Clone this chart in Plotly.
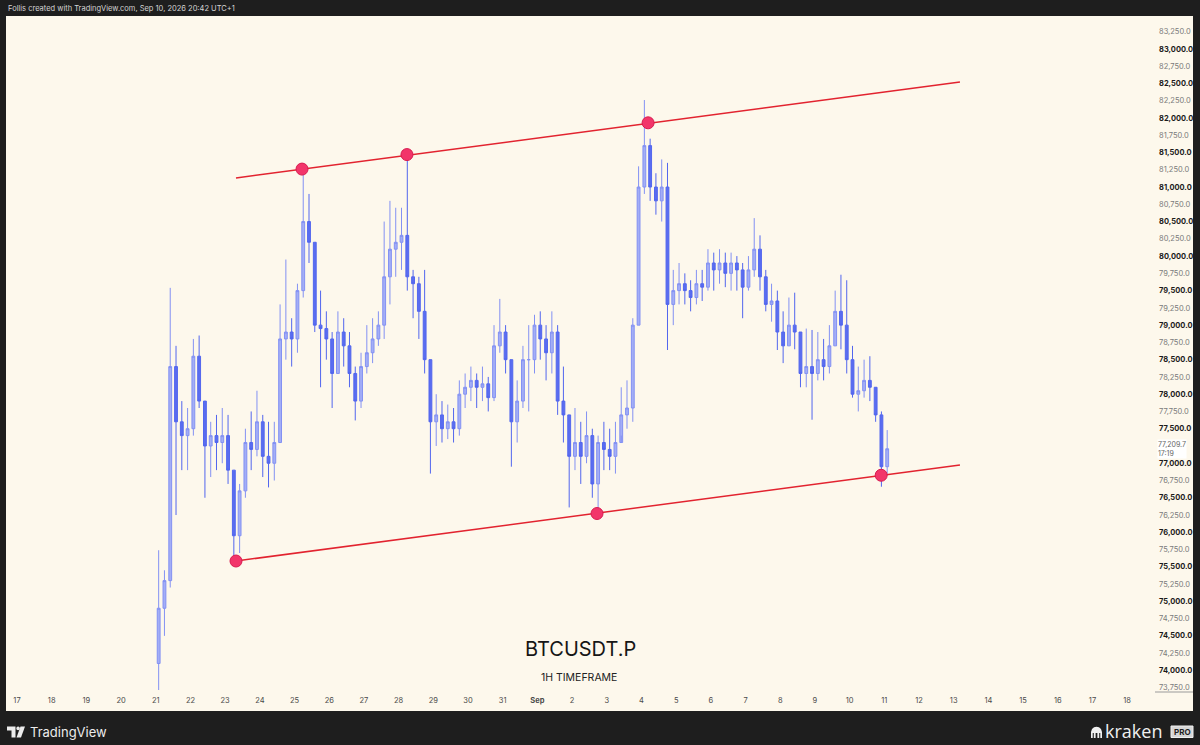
import plotly.graph_objects as go
import pandas as pd

# ---------------- data (4-hour candles) ----------------
first_open = 74100
closes = [74900, 75300, 78400, 77600, 77400, 77500, 78550, 77900, 77250, 77400,
          77300, 77400, 76900, 75950, 76600, 77300, 77200, 77600, 77100, 77000,
          77300, 78800, 78900, 78800, 79500, 80500, 80200, 79000, 78950, 78800,
          78300, 78900, 78700, 78300, 77900, 78400, 78600, 78800, 79000, 79700,
          80100, 80200, 80300, 79700, 79600, 79200, 78500, 77600, 77700, 77500,
          77600, 77500, 78000, 78100, 78200, 78100, 78150, 77950, 78700, 78900,
          78500, 77600, 77900, 78500, 78500, 79000, 78800, 78600, 78900, 77900,
          77700, 77100, 77300, 77100, 77400, 76700, 77300, 77200, 77100, 77300,
          77700, 77800, 79000, 81000, 81600, 81000, 80800, 81000, 79300, 79500,
          79600, 79500, 79400, 79600, 79550, 79900, 79800, 79900, 79750, 79900,
          79800, 79550, 79800, 80100, 79700, 79300, 79350, 78900, 78700, 79000,
          78900, 78300, 78400, 78300, 78500, 78400, 78700, 79200, 79000, 78500,
          78000, 78050, 78200, 78100, 77700, 76950, 77210]
highs = [75740, 75450, 79540, 78700, 77900, 77800, 78800, 78850, 77900, 77600,
         77700, 77800, 77700, 76900, 76700, 77500, 77750, 78050, 77700, 77600,
         77600, 79300, 79950, 79100, 79600, 81260, 80900, 80200, 79500, 79200,
         78900, 79200, 79100, 78900, 78400, 78600, 79000, 79100, 79200, 80500,
         80800, 80700, 80700, 81480, 79800, 79700, 79800, 78500, 78000, 77900,
         77850, 77800, 78200, 78300, 78400, 78300, 78400, 78250, 79000, 79380,
         79000, 78500, 78200, 78700, 79000, 79150, 79200, 79000, 79200, 79000,
         78400, 77700, 77800, 77600, 77750, 77500, 77400, 77600, 77500, 77600,
         78100, 78200, 79100, 81300, 82260, 81700, 81200, 81400, 81350, 79800,
         79900, 79750, 79650, 79800, 79800, 80100, 80050, 80100, 80050, 80050,
         80000, 79900, 80000, 80550, 80300, 79800, 79600, 79500, 79200, 79400,
         79470, 78900, 78950, 78930, 78900, 78800, 79000, 79500, 79730, 79650,
         78700, 78400, 78500, 78550, 78100, 77750, 77480]
lows = [73650, 74500, 75200, 76250, 76900, 76900, 77400, 77800, 76500, 76800,
        76900, 77000, 76700, 75580, 75700, 76500, 76900, 77100, 76800, 76650,
        76750, 77300, 78500, 78400, 78600, 79400, 79900, 78900, 78100, 78500,
        77800, 78300, 78400, 78100, 77620, 77800, 78300, 78450, 78700, 78800,
        79300, 79700, 79800, 79500, 79100, 78800, 78300, 76850, 77250, 77300,
        77350, 77300, 77400, 77800, 77900, 77800, 77900, 77750, 77900, 78600,
        78300, 76950, 77300, 77800, 77750, 78300, 78500, 78200, 78300, 77700,
        77300, 76360, 76900, 76700, 77000, 76500, 76260, 76900, 76900, 76850,
        77400, 77500, 77600, 79000, 80900, 80800, 80600, 80500, 78640, 79000,
        79300, 79300, 79200, 79300, 79350, 79500, 79500, 79600, 79550, 79500,
        79500, 79100, 79500, 79700, 79500, 79200, 79050, 78640, 78450, 78700,
        78650, 78100, 78100, 77630, 78200, 78200, 78300, 78700, 78650, 78300,
        77950, 77750, 77950, 77900, 77600, 76660, 76850]
opens = [first_open] + closes[:-1]
candle_start = "2026-08-21 02:00"
times = pd.date_range(candle_start, periods=len(closes), freq="4h")

# channel trendlines (anchor points) and touch points
line_x = ["2026-08-23 07:30", "2026-09-13 04:20"]
lower_y = [75584, 76975]
upper_y = [81131, 82522]
touch_x = ["2026-08-23 07:30", "2026-08-25 05:10", "2026-08-28 05:45",
           "2026-09-02 17:15", "2026-09-04 04:35", "2026-09-10 21:50"]
touch_y = [75584, 81260, 81470, 76272, 81930, 76826]

# axis ticks
day_ticks = pd.date_range("2026-08-17", "2026-09-18", freq="D")
day_labels = ["<b>Sep</b>" if (d.month == 9 and d.day == 1) else str(d.day) for d in day_ticks]
price_ticks = list(range(73750, 83251, 250))
hidden_price_tick = 77250          # covered by the last-price tag
last_price = "77,209.7"
countdown = "17:19"

# ---------------- layout geometry ----------------
W, H = 1200, 745
PL, PR, PT, PB = 6, 1140, 16, 690

def px(x):
    return (x - PL) / (PR - PL)

def py(y):
    return (PB - y) / (PB - PT)

def poly(points):
    s = "M " + " L ".join(f"{px(a):.5f},{py(b):.5f}" for a, b in points) + " Z"
    return s

FONT = "Inter, Roboto, sans-serif"
DARK = "#1e1e1e"
CREAM = "#FDF8EC"

fig = go.Figure()
fig.add_trace(go.Candlestick(
    x=times, open=opens, high=highs, low=lows, close=closes,
    increasing=dict(line=dict(color="#8391f3", width=1), fillcolor="#a3aef6"),
    decreasing=dict(line=dict(color="#5266ee", width=1), fillcolor="#5a6df0"),
    whiskerwidth=0, showlegend=False, hoverinfo="skip"))
fig.add_trace(go.Scatter(x=line_x, y=lower_y, mode="lines",
                         line=dict(color="#e2232f", width=1.5), showlegend=False, hoverinfo="skip"))
fig.add_trace(go.Scatter(x=line_x, y=upper_y, mode="lines",
                         line=dict(color="#e2232f", width=1.5), showlegend=False, hoverinfo="skip"))
fig.add_trace(go.Scatter(x=touch_x, y=touch_y, mode="markers",
                         marker=dict(size=12, color="#f2356a", line=dict(color="#d81b50", width=1)),
                         showlegend=False, hoverinfo="skip"))

price_text = []
for v in price_ticks:
    s = f"{v:,.1f}"
    if v == hidden_price_tick:
        price_text.append("")
    elif v % 500 == 0:
        price_text.append(f"<b>{s}</b>")
    else:
        price_text.append(f"<span style='color:#7a7a7a'>{s}</span>")

shapes = [
    dict(type="rect", xref="paper", yref="paper", x0=px(6), x1=px(1193), y0=py(711), y1=py(16),
         fillcolor=CREAM, line=dict(width=0), layer="below"),
    dict(type="line", xref="paper", yref="paper", x0=px(1155), x1=px(1193), y0=py(692), y1=py(692),
         line=dict(color="#9a9a9a", width=1)),
    # TradingView logo mark
    dict(type="path", xref="paper", yref="paper",
         path=poly([(7, 726.5), (15.5, 726.5), (15.5, 737.5), (11.5, 737.5), (11.5, 730.5), (7, 730.5)]),
         fillcolor="#ececec", line=dict(width=0)),
    dict(type="circle", xref="paper", yref="paper", x0=px(16.3), x1=px(19.9), y0=py(726.6), y1=py(730.2),
         fillcolor="#ececec", line=dict(width=0)),
    dict(type="path", xref="paper", yref="paper",
         path=poly([(20.5, 726.5), (25, 726.5), (21, 737.5), (16.5, 737.5)]),
         fillcolor="#ececec", line=dict(width=0)),
    # Kraken mark
    dict(type="path", xref="paper", yref="paper",
         path=poly([(1091, 738), (1091, 732), (1092, 729), (1094, 727.3), (1096.5, 726.8), (1099, 727.3),
                    (1101, 729), (1102, 732), (1102, 738), (1100.3, 738), (1100.3, 733), (1099.2, 733),
                    (1099.2, 738), (1097.4, 738), (1097.4, 733), (1095.6, 733), (1095.6, 738),
                    (1093.8, 738), (1093.8, 733), (1092.7, 733), (1092.7, 738)]),
         fillcolor="#f0f0f0", line=dict(width=0)),
    dict(type="rect", xref="paper", yref="paper", x0=px(1171), x1=px(1193), y0=py(737.5), y1=py(726),
         fillcolor="#d6d6d6", line=dict(color="#f0f0f0", width=1)),
]

def note(text, x, y, xanchor, size, color, family=FONT, **kw):
    return dict(text=text, x=px(x), y=py(y), xref="paper", yref="paper", xanchor=xanchor,
                yanchor="middle", showarrow=False, font=dict(family=family, size=size, color=color), **kw)

annotations = [
    note("Follis created with TradingView.com, Sep 10, 2026 20:42 UTC+1", 6, 8.5, "left", 7.5, "#d4d4d4"),
    note("BTCUSDT.P", 580, 649, "center", 20, "#161616"),
    note("1H TIMEFRAME", 579, 677, "center", 10.5, "#222222"),
    note(f"{last_price}<br>{countdown}", 1157, 449, "left", 7, "#666666",
         align="left", bgcolor="#ffffff", borderpad=0),
    note("TradingView", 28, 732, "left", 13, "#ececec"),
    note("kraken", 1103, 731, "left", 18, "#f0f0f0", family="Open Sans, sans-serif"),
    note("<b>PRO</b>", 1182, 731.8, "center", 8, "#1e1e1e"),
]

fig.update_layout(
    width=W, height=H,
    margin=dict(l=PL, r=W - PR, t=PT, b=H - PB),
    paper_bgcolor=DARK, plot_bgcolor=CREAM,
    font=dict(family=FONT),
    shapes=shapes, annotations=annotations,
    xaxis=dict(type="date", range=["2026-08-16 16:23", "2026-09-18 08:53"],
               tickvals=day_ticks, ticktext=day_labels, showgrid=False, zeroline=False,
               showline=False, ticks="", ticklabelstandoff=4,
               tickfont=dict(family=FONT, size=7.5, color="#4a4a4a"),
               rangeslider=dict(visible=False), fixedrange=True),
    yaxis=dict(side="right", range=[73716, 83477], tickvals=price_ticks, ticktext=price_text,
               showgrid=False, zeroline=False, showline=False, ticks="", ticklabelstandoff=18,
               tickfont=dict(family=FONT, size=7.5, color="#1a1a1a"), fixedrange=True),
)

fig.write_html("out.html", config={"displayModeBar": False},
               post_script="document.body.style.margin='0';document.body.style.background='#1e1e1e';")
